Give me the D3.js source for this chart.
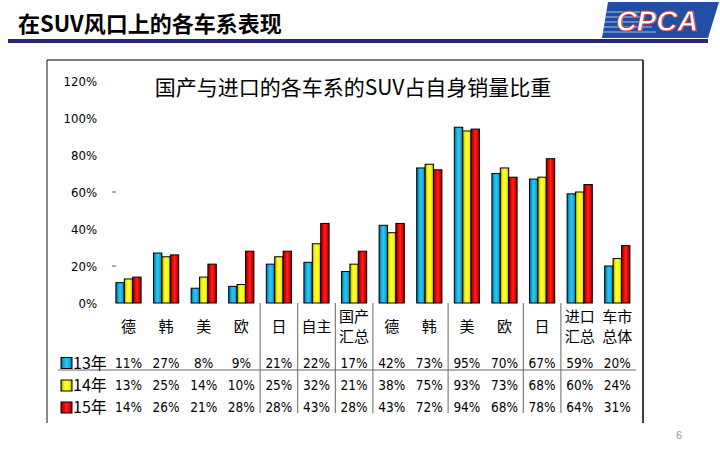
<!DOCTYPE html>
<html><head><meta charset="utf-8">
<script src="https://cdn.jsdelivr.net/npm/d3@7/dist/d3.min.js"></script>
<style>
html,body{margin:0;padding:0;background:#fff;}
svg{display:block;}
.narrow{font-family:"Liberation Sans Narrow","DejaVu Sans Condensed","Liberation Sans",Arial,sans-serif;}
.cjk{font-family:"Noto Sans CJK SC","Noto Sans",sans-serif;}
</style>
</head><body>
<svg id="c" width="720" height="450"></svg>
<script>
const pageTitle = "在SUV风口上的各车系表现";
const chartTitle = "国产与进口的各车系的SUV占自身销量比重";
const categories = ["德","韩","美","欧","日","自主","国产\n汇总","德","韩","美","欧","日","进口\n汇总","车市\n总体"];
const seriesNames = ["13年","14年","15年"];
const s13 = [11,27,8,9,21,22,17,42,73,95,70,67,59,20];
const s14 = [13,25,14,10,25,32,21,38,75,93,73,68,60,24];
const s15 = [14,26,21,28,28,43,28,43,72,94,68,78,64,31];
const yTicks = [0,20,40,60,80,100,120];
const markedTicks = [20,60];
const separatorAfter = [3,4,5,6,8,10,11];
const pageNumber = "6";

const series = [s13,s14,s15];
const colors = [
  {id:"gC", edge:"#005f86", mid:"#2cc8f2", base:"#10aadc"},
  {id:"gY", edge:"#8c8c00", mid:"#ffff40", base:"#f0f000"},
  {id:"gR", edge:"#800000", mid:"#ff2020", base:"#e00000"}
];

const svg = d3.select("#c");
const defs = svg.append("defs");
colors.forEach(c=>{
  const g = defs.append("linearGradient").attr("id",c.id).attr("x1","0%").attr("x2","100%").attr("y1","0%").attr("y2","0%");
  g.append("stop").attr("offset","0%").attr("stop-color",c.edge);
  g.append("stop").attr("offset","25%").attr("stop-color",c.base);
  g.append("stop").attr("offset","50%").attr("stop-color",c.mid);
  g.append("stop").attr("offset","80%").attr("stop-color",c.base);
  g.append("stop").attr("offset","100%").attr("stop-color",c.edge);
});

// page header
svg.append("text").attr("class","cjk").attr("x",18).attr("y",32)
  .attr("font-size",22).attr("font-weight","bold").attr("fill","#000").text(pageTitle);
svg.append("rect").attr("x",8).attr("y",39).attr("width",700).attr("height",4).attr("fill","#2a2870");
// logo
const logo = svg.append("g");
logo.append("polygon").attr("points","608,2 719,2 708,38 602,38").attr("fill","#1f4ea6");
[12,17,22,27,32].forEach((yy,i)=>{
  logo.append("line").attr("x1",606-i).attr("x2",640+i*4).attr("y1",yy).attr("y2",yy)
    .attr("stroke","#ffffff").attr("stroke-width",0.8).attr("opacity",0.8);
});
logo.append("text").attr("x",657).attr("y",31).attr("text-anchor","middle")
  .attr("font-family","Liberation Sans, Arial, sans-serif").attr("font-size",29)
  .attr("font-weight","bold").attr("font-style","italic")
  .attr("fill","#ffffff").attr("stroke","#d03030").attr("stroke-width",0.8).text("CPCA");

// chart frame
svg.append("line").attr("x1",47).attr("x2",47).attr("y1",60).attr("y2",423).attr("stroke","#8a8a8a").attr("stroke-width",2);
svg.append("line").attr("x1",47).attr("x2",643).attr("y1",60).attr("y2",60).attr("stroke","#000").attr("stroke-width",1.2);
svg.append("line").attr("x1",643).attr("x2",643).attr("y1",60).attr("y2",423).attr("stroke","#000").attr("stroke-width",1.5);

// chart title
svg.append("text").attr("class","cjk").attr("x",353).attr("y",95).attr("text-anchor","middle")
  .attr("font-size",21).attr("fill","#000").text(chartTitle);

// scales
const x = d3.scaleBand().domain(categories.map((c,i)=>i)).range([109.7,636.1]).padding(0);
const inner = d3.scaleBand().domain(d3.range(3)).range([6.2, 31.4]).padding(0);
const y = d3.scaleLinear().domain([0,120]).range([303,81]);

// y axis labels
const yAxis = d3.axisLeft(y).tickValues(yTicks).tickSize(0).tickFormat(d=>d+"%");
const ya = svg.append("g").attr("transform","translate(97,0)").call(yAxis);
ya.select(".domain").remove();
ya.selectAll("text").attr("class","narrow").attr("font-size",13).attr("fill","#000").attr("x",0).attr("dy","0.35em");
svg.selectAll(".mtick").data(markedTicks).join("line").attr("class","mtick")
  .attr("x1",112).attr("x2",116).attr("y1",d=>y(d)).attr("y2",d=>y(d)).attr("stroke","#555").attr("stroke-width",1);

// bars
const groups = svg.append("g").selectAll("g").data(categories.map((c,i)=>i)).join("g")
  .attr("transform",i=>`translate(${x(i)},0)`);
groups.selectAll("rect").data(i=>series.map((s,k)=>({k,v:s[i]}))).join("rect")
  .attr("x",d=>inner(d.k)).attr("width",inner.bandwidth())
  .attr("y",d=>y(d.v)).attr("height",d=>y(0)-y(d.v))
  .attr("fill",d=>`url(#${colors[d.k].id})`).attr("stroke","#000").attr("stroke-width",1);

// table separators
svg.selectAll(".vsep").data(separatorAfter).join("line").attr("class","vsep")
  .attr("x1",k=>x(k)+x.step()).attr("x2",k=>x(k)+x.step())
  .attr("y1",303).attr("y2",413).attr("stroke","#666").attr("stroke-width",1);
svg.append("line").attr("x1",58).attr("x2",636).attr("y1",370).attr("y2",370).attr("stroke","#666").attr("stroke-width",1);

// category labels
categories.forEach((c,i)=>{
  const lines = c.split("\n");
  const cx = x(i)+x.step()/2;
  const t = svg.append("text").attr("class","cjk").attr("text-anchor","middle").attr("font-size",15).attr("fill","#000");
  if(lines.length===1){
    t.attr("x",cx).attr("y",327).attr("dy","0.35em").text(lines[0]);
  } else {
    lines.forEach((l,j)=>t.append("tspan").attr("x",cx).attr("y",317+j*20).attr("dy","0.35em").text(l));
  }
});

// table rows
const rowY = [363,385.5,407.5];
series.forEach((s,k)=>{
  svg.append("rect").attr("x",61).attr("y",rowY[k]-5.5).attr("width",11).attr("height",11)
    .attr("fill",`url(#${colors[k].id})`).attr("stroke","#000").attr("stroke-width",1);
  svg.append("text").attr("class","cjk").attr("x",73).attr("y",rowY[k]).attr("dy","0.35em")
    .attr("font-size",16).attr("fill","#000").text(seriesNames[k]);
  svg.selectAll(".v"+k).data(s).join("text").attr("class","narrow v"+k)
    .attr("x",(d,i)=>x(i)+x.step()/2).attr("y",rowY[k]).attr("dy","0.35em")
    .attr("text-anchor","middle").attr("font-size",13.5).attr("fill","#000").text(d=>d+"%");
});

svg.append("text").attr("x",679).attr("y",439).attr("text-anchor","middle")
  .attr("font-family","Liberation Sans, Arial, sans-serif").attr("font-size",11).attr("fill","#999").text(pageNumber);
</script>
</body></html>
